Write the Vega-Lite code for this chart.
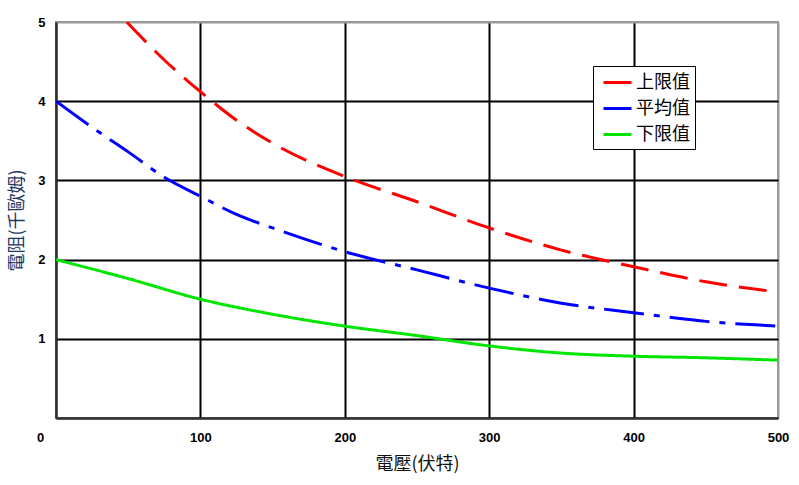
{
  "$schema": "https://vega.github.io/schema/vega-lite/v6.json",
  "autosize": {"type": "none"},
  "width": 722,
  "height": 396,
  "padding": {"left": 56, "top": 22, "right": 21, "bottom": 67},
  "background": "white",
  "config": {
    "view": {"stroke": "#999999", "strokeWidth": 2},
    "axis": {
      "labelFont": "Liberation Sans",
      "labelFontWeight": "bold",
      "labelFontSize": 13,
      "labelColor": "#000000",
      "labelFlush": false,
      "titleFont": "Noto Sans CJK TC",
      "titleFontWeight": "normal",
      "titleFontSize": 18,
      "ticks": false,
      "domainColor": "#333333",
      "domainWidth": 2,
      "gridWidth": 2
    }
  },
  "data": {
    "values": [
      {"v": 49, "r": 5.0, "s": "上限值"},
      {"v": 75, "r": 4.52, "s": "上限值"},
      {"v": 100, "r": 4.12, "s": "上限值"},
      {"v": 125, "r": 3.76, "s": "上限值"},
      {"v": 150, "r": 3.47, "s": "上限值"},
      {"v": 200, "r": 3.05, "s": "上限值"},
      {"v": 250, "r": 2.73, "s": "上限值"},
      {"v": 300, "r": 2.4, "s": "上限值"},
      {"v": 350, "r": 2.12, "s": "上限值"},
      {"v": 400, "r": 1.91, "s": "上限值"},
      {"v": 450, "r": 1.72, "s": "上限值"},
      {"v": 500, "r": 1.59, "s": "上限值"},
      {"v": 0, "r": 4.0, "s": "平均值"},
      {"v": 25, "r": 3.67, "s": "平均值"},
      {"v": 50, "r": 3.36, "s": "平均值"},
      {"v": 75, "r": 3.04, "s": "平均值"},
      {"v": 100, "r": 2.8, "s": "平均值"},
      {"v": 125, "r": 2.57, "s": "平均值"},
      {"v": 150, "r": 2.4, "s": "平均值"},
      {"v": 200, "r": 2.1, "s": "平均值"},
      {"v": 250, "r": 1.87, "s": "平均值"},
      {"v": 300, "r": 1.64, "s": "平均值"},
      {"v": 350, "r": 1.45, "s": "平均值"},
      {"v": 400, "r": 1.33, "s": "平均值"},
      {"v": 450, "r": 1.22, "s": "平均值"},
      {"v": 500, "r": 1.16, "s": "平均值"},
      {"v": 0, "r": 2.0, "s": "下限值"},
      {"v": 50, "r": 1.76, "s": "下限值"},
      {"v": 100, "r": 1.5, "s": "下限值"},
      {"v": 150, "r": 1.31, "s": "下限值"},
      {"v": 200, "r": 1.16, "s": "下限值"},
      {"v": 250, "r": 1.04, "s": "下限值"},
      {"v": 300, "r": 0.91, "s": "下限值"},
      {"v": 350, "r": 0.82, "s": "下限值"},
      {"v": 400, "r": 0.78, "s": "下限值"},
      {"v": 450, "r": 0.76, "s": "下限值"},
      {"v": 500, "r": 0.73, "s": "下限值"}
    ]
  },
  "mark": {"type": "line", "strokeWidth": 3, "interpolate": "monotone", "clip": true},
  "encoding": {
    "x": {
      "field": "v",
      "type": "quantitative",
      "scale": {"domain": [0, 500], "nice": false},
      "axis": {
        "values": [0, 100, 200, 300, 400, 500],
        "title": "電壓(伏特)",
        "titleColor": "#111111",
        "titlePadding": 11,
        "labelPadding": 13,
        "labelOffset": {"condition": {"test": "datum.value === 0", "value": -16}, "value": 0},
        "gridColor": {"condition": {"test": "datum.value === 500", "value": "#999999"}, "value": "#000000"}
      }
    },
    "y": {
      "field": "r",
      "type": "quantitative",
      "scale": {"domain": [0, 5], "nice": false},
      "axis": {
        "values": [0, 1, 2, 3, 4, 5],
        "title": "電阻(千歐姆)",
        "titleColor": "#1F3864",
        "titlePadding": 11,
        "labelPadding": 11,
        "labelExpr": "datum.value === 0 ? '' : datum.label",
        "gridColor": {"condition": {"test": "datum.value === 5", "value": "#999999"}, "value": "#000000"}
      }
    },
    "color": {
      "field": "s",
      "type": "nominal",
      "scale": {"domain": ["上限值", "平均值", "下限值"], "range": ["#FF0000", "#0000FF", "#00E600"]},
      "legend": {
        "title": null,
        "orient": "none",
        "legendX": 537,
        "legendY": 44,
        "fillColor": "white",
        "strokeColor": "#000000",
        "padding": 5,
        "labelFont": "Noto Sans CJK TC",
        "labelFontSize": 18,
        "labelColor": "#000000",
        "symbolType": "M-1.4,0L1.4,0",
        "symbolSize": 400,
        "symbolStrokeWidth": 3,
        "symbolOffset": 8,
        "rowPadding": 5,
        "labelOffset": 7,
        "encode": {
          "symbols": {
            "update": {
              "strokeDash": [
                {"test": "datum.value === '上限值'", "value": [12, 4]},
                {"test": "datum.value === '平均值'", "value": [20, 3, 4, 3]},
                {"value": [1, 0]}
              ]
            }
          }
        }
      }
    },
    "strokeDash": {
      "field": "s",
      "type": "nominal",
      "legend": null,
      "scale": {"domain": ["上限值", "平均值", "下限值"], "range": [[28, 12], [40, 10, 6, 10], [1, 0]]}
    }
  }
}
